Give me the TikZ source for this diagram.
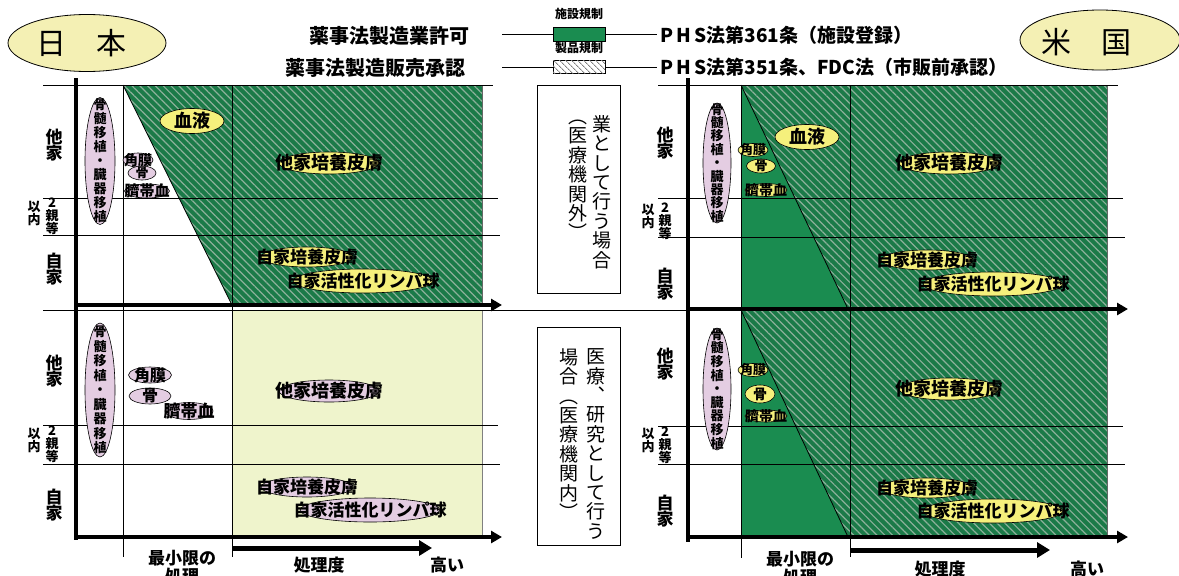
\documentclass[tikz,border=0pt]{standalone}
\usepackage{fontspec}
\newfontfamily\jp{Noto Sans CJK JP}
\usetikzlibrary{shapes.geometric,arrows.meta,patterns.meta}
\definecolor{dkgreen}{HTML}{1B7A48}
\definecolor{solidgreen}{HTML}{1A8C50}
\definecolor{stripe}{HTML}{8CB09A}
\definecolor{lightbg}{HTML}{EFF4CC}
\definecolor{pinkfill}{HTML}{E4CDE2}
\definecolor{yelfill}{HTML}{F5F07C}
\definecolor{ovalfill}{HTML}{F4F0B4}
\tikzset{
  hatchgreen/.style={fill=dkgreen, postaction={pattern={Lines[angle=-45,distance=5.5pt,line width=1.2pt]}, pattern color=stripe}},
  gridline/.style={line width=0.8pt, black},
  axisline/.style={line width=3.5pt, black},
  axisarrow/.style={line width=3.5pt, black, -{Triangle[length=11pt,width=12pt]}},
  subarrow/.style={line width=5pt, black, -{Triangle[length=13pt,width=15pt]}},
  pinkell/.style={ellipse, draw=black, line width=0.6pt, fill=pinkfill, inner sep=0pt},
  yelell/.style={ellipse, draw=black, line width=0.6pt, fill=yelfill, inner sep=0pt},
  pilltext/.style={align=center, inner sep=0pt},
  ylab/.style={font=\jp\bfseries\fontsize{17}{16.5}\selectfont, align=center, inner sep=0pt},
  smlab/.style={font=\jp\bfseries\fontsize{13}{13}\selectfont, align=center, inner sep=0pt},
  xlab/.style={font=\jp\bfseries\fontsize{17}{18}\selectfont, align=center, inner sep=0pt},
  legtext/.style={font=\jp\bfseries\fontsize{20}{20}\selectfont, inner sep=0pt},
  legsmall/.style={font=\jp\bfseries\fontsize{12}{12}\selectfont, inner sep=0pt},
  midtext/.style={font=\jp\fontsize{19}{19.4}\selectfont, align=center, inner sep=0pt},
  midbox/.style={draw=black, line width=0.8pt, fill=white},
  country/.style={ellipse, draw=black, line width=0.8pt, fill=ovalfill, inner sep=0pt},
  countrytext/.style={font=\jp\fontsize{30}{30}\selectfont, inner sep=0pt}
}
\newcommand\pill[7]{%
  \node[#1, minimum width=#4pt, minimum height=#5pt] (#2) at (#3) {};
  \node[pilltext, font=\jp\bfseries#6\selectfont] (#2-t) at (#2.center) {#7};}
\begin{document}
\begin{tikzpicture}[x=1pt,y=-1pt]
\useasboundingbox (0,0) rectangle (1179,576);
\fill[white] (0,0) rectangle (1179,576);

% ---------------- country ovals ----------------
\node[country, minimum width=158pt, minimum height=57pt] (jpov) at (87,43) {};
\node[countrytext] (jpovt) at (81,43) {日　本};
\node[country, minimum width=160pt, minimum height=60pt] (usov) at (1100,40) {};
\node[countrytext] (usovt) at (1086,42) {米　国};

% ---------------- legend ----------------
\node[legtext, anchor=east] (lt1) at (470,36) {薬事法製造業許可};
\node[legtext, anchor=east] (lt2) at (466,68) {薬事法製造販売承認};
\node[legsmall] (ls1) at (579,14) {施設規制};
\node[legsmall] (ls2) at (579,48) {製品規制};
\node[draw=black, line width=0.8pt, fill=solidgreen, minimum width=52pt, minimum height=14pt, inner sep=0pt] (lgA) at (579,34) {};
\node[draw=black, line width=0.8pt, fill=white, postaction={pattern={Lines[angle=-45,distance=4pt,line width=1pt]}, pattern color=gray}, minimum width=52pt, minimum height=13pt, inner sep=0pt] (lgB) at (579,67) {};
\coordinate (lgAl) at (502,34);
\coordinate (lgAr) at (657,34);
\coordinate (lgBl) at (502,67);
\coordinate (lgBr) at (657,67);
\draw[line width=0.8pt] (lgAl) -- (lgA.west);
\draw[line width=0.8pt] (lgA.east) -- (lgAr);
\draw[line width=0.8pt] (lgBl) -- (lgB.west);
\draw[line width=0.8pt] (lgB.east) -- (lgBr);
\node[legtext, anchor=west, font=\jp\bfseries\fontsize{19}{19}\selectfont] (lt3) at (660,35) {P\,H\,S法第361条（施設登録）};
\node[legtext, anchor=west, font=\jp\bfseries\fontsize{19}{19}\selectfont] (lt4) at (660,67) {P\,H\,S法第351条、FDC法（市販前承認）};

% ---------------- Japan chart ----------------
\fill[lightbg] (232,310) rectangle (482,537);
\draw[line width=0.4pt, black!50] (482,310) -- (482,537);
\fill[hatchgreen] (123,85) -- (482,85) -- (482,305) -- (232,305) -- cycle;
\draw[line width=0.8pt] (123,85) -- (232,305);
\draw[line width=0.5pt, black!60] (482,85) -- (482,305);
\draw[gridline] (43,85) -- (493,85);
\draw[gridline] (43,198) -- (498,198);
\draw[gridline] (43,235) -- (500,235);
\draw[gridline] (43,310) -- (1125,310);
\draw[gridline] (43,425) -- (498,425);
\draw[gridline] (43,464) -- (500,464);
\draw[gridline] (123,85) -- (123,557);
\draw[gridline] (232,85) -- (232,557);
\draw[axisline] (76,78) -- (76,540);
\draw[axisarrow] (74,305) -- (502,305);
\draw[axisarrow] (74,537) -- (502,537);
\draw[subarrow] (232,548) -- (432,548);

% axis labels Japan
\node[ylab] (jy1) at (54,145) {他\\家};
\node[smlab] (jy2) at (52,216) {2\\親\\等};
\node[smlab] (jy3) at (34,213) {以\\内};
\node[ylab] (jy4) at (54,269) {自\\家};
\node[ylab] (jy5) at (54,371) {他\\家};
\node[smlab] (jy6) at (52,444) {2\\親\\等};
\node[smlab] (jy7) at (34,440) {以\\内};
\node[ylab] (jy8) at (54,505) {自\\家};
\node[xlab, anchor=north] (jx1) at (182,550) {最小限の\\処理};
\node[xlab] (jx2) at (319,565) {処理度};
\node[xlab] (jx3) at (447,565) {高い};

% pills Japan upper
\pill{pinkell}{jU1}{100,161}{30}{127}{\fontsize{13}{14}}{骨\\髄\\移\\植\\・\\臓\\器\\移\\植}
\pill{yelell}{jU2}{192,121}{64}{25}{\fontsize{18}{18}}{血液}
\pill{pinkell}{jU3}{138,160}{30}{14}{\fontsize{14}{14}}{角膜}
\pill{pinkell}{jU4}{142,173}{28}{14}{\fontsize{13}{13}}{骨}
\pill{pinkell}{jU5}{147,191}{45}{14}{\fontsize{15}{15}}{臍帯血}
\pill{yelell}{jU6}{329,163}{100}{22}{\fontsize{18}{18}}{他家培養皮膚}
\pill{yelell}{jU7}{307,257}{92}{20}{\fontsize{17}{17}}{自家培養皮膚}
\pill{yelell}{jU8}{363,281}{140}{24}{\fontsize{17}{17}}{自家活性化リンパ球}
% pills Japan lower
\pill{pinkell}{jL1}{100,390}{30}{134}{\fontsize{13}{14.5}}{骨\\髄\\移\\植\\・\\臓\\器\\移\\植}
\pill{pinkell}{jL2}{150,375}{43}{16}{\fontsize{16}{16}}{角膜}
\pill{pinkell}{jL3}{150,396}{42}{16}{\fontsize{16}{16}}{骨}
\pill{pinkell}{jL4}{189,411}{48}{17}{\fontsize{17}{17}}{臍帯血}
\pill{pinkell}{jL5}{329,391}{100}{22}{\fontsize{18}{18}}{他家培養皮膚}
\pill{pinkell}{jL6}{307,487}{92}{20}{\fontsize{17}{17}}{自家培養皮膚}
\pill{pinkell}{jL7}{370,510}{140}{24}{\fontsize{17}{17}}{自家活性化リンパ球}

% ---------------- middle boxes ----------------
\node[midbox, minimum width=83pt, minimum height=208pt, inner sep=0pt] (mb1) at (578.5,189) {};
\node[midtext] (mb1r) at (602,192) {業\\と\\し\\て\\行\\う\\場\\合};
\node[midtext] (mb1l) at (578,180) {︵\\医\\療\\機\\関\\外\\︶};
\node[midbox, minimum width=83pt, minimum height=218pt, inner sep=0pt] (mb2) at (578.5,436) {};
\node[midtext] (mb2r) at (596,444) {医\\療\\︑\\研\\究\\と\\し\\て\\行\\う};
\node[midtext] (mb2l) at (569,434) {場\\合\\︵\\医\\療\\機\\関\\内\\︶};

% ---------------- US chart ----------------
\fill[hatchgreen] (741,85) rectangle (1107,309);
\fill[solidgreen] (741,85) -- (848,309) -- (741,309) -- cycle;
\draw[line width=0.8pt] (741,85) -- (848,309);
\fill[hatchgreen] (741,310) rectangle (1107,537);
\fill[solidgreen] (741,310) -- (848,537) -- (741,537) -- cycle;
\draw[line width=0.8pt] (741,310) -- (848,537);
\draw[line width=0.5pt, black!60] (1107,85) -- (1107,537);
\draw[gridline] (658,85) -- (1118,85);
\draw[gridline] (658,198) -- (1123,198);
\draw[gridline] (658,237) -- (1125,237);
\draw[gridline] (658,426) -- (1123,426);
\draw[gridline] (658,464) -- (1125,464);
\draw[gridline] (741,85) -- (741,558);
\draw[gridline] (850,85) -- (850,557);
\draw[axisline] (688,78) -- (688,542);
\draw[axisarrow] (686,309) -- (1128,309);
\draw[axisarrow] (686,537) -- (1128,537);
\draw[subarrow] (850,550) -- (1050,550);

% axis labels US
\node[ylab] (uy1) at (665,143) {他\\家};
\node[smlab] (uy2) at (665,221) {2\\親\\等};
\node[smlab] (uy3) at (648,216) {以\\内};
\node[ylab] (uy4) at (665,284) {自\\家};
\node[ylab] (uy5) at (665,364) {他\\家};
\node[smlab] (uy6) at (665,445) {2\\親\\等};
\node[smlab] (uy7) at (648,440) {以\\内};
\node[ylab] (uy8) at (665,511) {自\\家};
\node[xlab, anchor=north] (ux1) at (800,551) {最小限の\\処理};
\node[xlab] (ux2) at (940,569) {処理度};
\node[xlab] (ux3) at (1087,569) {高い};

% pills US upper
\pill{pinkell}{uU1}{717,163}{28}{120}{\fontsize{13}{13.4}}{骨\\髄\\移\\植\\・\\臓\\器\\移\\植}
\pill{yelell}{uU2}{807,137}{64}{25}{\fontsize{18}{18}}{血液}
\pill{yelell}{uU3}{753,150}{30}{13}{\fontsize{13}{13}}{角膜}
\pill{yelell}{uU4}{761,166}{29}{14}{\fontsize{13}{13}}{骨}
\pill{yelell}{uU5}{766,190}{42}{13}{\fontsize{14}{14}}{臍帯血}
\pill{yelell}{uU6}{949,163}{100}{22}{\fontsize{18}{18}}{他家培養皮膚}
\pill{yelell}{uU7}{927,260}{92}{20}{\fontsize{17}{17}}{自家培養皮膚}
\pill{yelell}{uU8}{993,284}{140}{24}{\fontsize{17}{17}}{自家活性化リンパ球}
% pills US lower
\pill{pinkell}{uL1}{717,389}{28}{122}{\fontsize{13}{13.6}}{骨\\髄\\移\\植\\・\\臓\\器\\移\\植}
\pill{yelell}{uL2}{753,370}{30}{13}{\fontsize{13}{13}}{角膜}
\pill{yelell}{uL3}{760,394}{30}{18}{\fontsize{14}{14}}{骨}
\pill{yelell}{uL4}{766,416}{42}{12}{\fontsize{14}{14}}{臍帯血}
\pill{yelell}{uL5}{949,389}{100}{22}{\fontsize{18}{18}}{他家培養皮膚}
\pill{yelell}{uL6}{927,488}{92}{20}{\fontsize{17}{17}}{自家培養皮膚}
\pill{yelell}{uL7}{993,511}{140}{24}{\fontsize{17}{17}}{自家活性化リンパ球}
\end{tikzpicture}
\end{document}
